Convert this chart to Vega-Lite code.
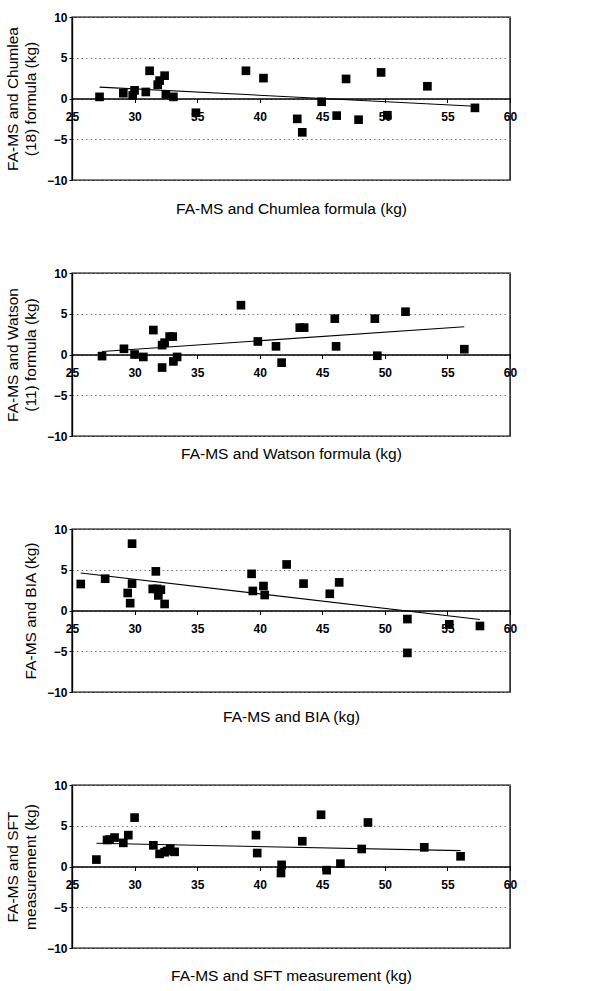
{
  "$schema": "https://vega.github.io/schema/vega-lite/v6.json",
  "padding": {"left": 4, "top": 10, "right": 10, "bottom": 5},
  "background": "white",
  "config": {
    "font": "Liberation Sans",
    "view": {"stroke": "#000", "strokeWidth": 1.4},
    "axis": {
      "domainColor": "#000",
      "tickColor": "#000",
      "labelColor": "#000",
      "titleColor": "#000",
      "labelFont": "Liberation Sans",
      "titleFont": "Liberation Sans",
      "labelFontSize": 12,
      "labelFontWeight": "bold",
      "titleFontSize": 15.5,
      "titleFontWeight": "normal"
    },
    "axisX": {
      "values": [25, 30, 35, 40, 45, 50, 55, 60],
      "grid": false,
      "tickSize": 4,
      "labelPadding": 9,
      "domainWidth": 1.3,
      "offset": -81.5,
      "titleBaseline": "middle",
      "labelFlush": false
    },
    "axisY": {
      "values": [-10, -5, 0, 5, 10],
      "grid": true,
      "gridColor": "#777",
      "gridDash": [1.5, 3],
      "gridWidth": 1,
      "tickSize": 3,
      "labelPadding": 2,
      "titlePadding": 8,
      "titleLineHeight": 18,
      "domainWidth": 1.3
    }
  },
  "datasets": {
    "pts": [
      {"p": "A", "x": 27.2, "y": 0.2}, {"p": "A", "x": 29.1, "y": 0.65}, {"p": "A", "x": 29.85, "y": 0.37},
      {"p": "A", "x": 30.0, "y": 1.0}, {"p": "A", "x": 30.9, "y": 0.8}, {"p": "A", "x": 31.2, "y": 3.4},
      {"p": "A", "x": 31.85, "y": 1.7}, {"p": "A", "x": 32.0, "y": 2.2}, {"p": "A", "x": 32.4, "y": 2.8},
      {"p": "A", "x": 32.5, "y": 0.5}, {"p": "A", "x": 33.1, "y": 0.2}, {"p": "A", "x": 34.9, "y": -1.75},
      {"p": "A", "x": 38.9, "y": 3.4}, {"p": "A", "x": 40.3, "y": 2.5}, {"p": "A", "x": 43.0, "y": -2.5},
      {"p": "A", "x": 43.4, "y": -4.15}, {"p": "A", "x": 44.95, "y": -0.4}, {"p": "A", "x": 46.15, "y": -2.1},
      {"p": "A", "x": 46.9, "y": 2.4}, {"p": "A", "x": 47.9, "y": -2.6}, {"p": "A", "x": 49.7, "y": 3.2},
      {"p": "A", "x": 50.2, "y": -2.05}, {"p": "A", "x": 53.4, "y": 1.5}, {"p": "A", "x": 57.2, "y": -1.15},

      {"p": "B", "x": 27.4, "y": -0.2}, {"p": "B", "x": 29.15, "y": 0.7}, {"p": "B", "x": 30.0, "y": 0.0},
      {"p": "B", "x": 30.7, "y": -0.3}, {"p": "B", "x": 31.5, "y": 3.0}, {"p": "B", "x": 32.2, "y": -1.6},
      {"p": "B", "x": 32.2, "y": 1.15}, {"p": "B", "x": 32.4, "y": 1.45}, {"p": "B", "x": 32.8, "y": 2.2},
      {"p": "B", "x": 33.05, "y": 2.2}, {"p": "B", "x": 33.1, "y": -0.85}, {"p": "B", "x": 33.4, "y": -0.3},
      {"p": "B", "x": 38.5, "y": 6.05}, {"p": "B", "x": 39.85, "y": 1.6}, {"p": "B", "x": 41.3, "y": 1.0},
      {"p": "B", "x": 41.75, "y": -1.0}, {"p": "B", "x": 43.2, "y": 3.3}, {"p": "B", "x": 43.55, "y": 3.3},
      {"p": "B", "x": 46.0, "y": 4.4}, {"p": "B", "x": 46.1, "y": 1.0}, {"p": "B", "x": 49.2, "y": 4.4},
      {"p": "B", "x": 49.4, "y": -0.15}, {"p": "B", "x": 51.65, "y": 5.25}, {"p": "B", "x": 56.35, "y": 0.65},

      {"p": "C", "x": 25.7, "y": 3.25}, {"p": "C", "x": 27.65, "y": 3.9}, {"p": "C", "x": 29.45, "y": 2.15},
      {"p": "C", "x": 29.65, "y": 0.9}, {"p": "C", "x": 29.8, "y": 8.2}, {"p": "C", "x": 29.8, "y": 3.3},
      {"p": "C", "x": 31.45, "y": 2.65}, {"p": "C", "x": 31.7, "y": 4.8}, {"p": "C", "x": 31.8, "y": 2.65},
      {"p": "C", "x": 31.9, "y": 1.85}, {"p": "C", "x": 32.1, "y": 2.55}, {"p": "C", "x": 32.4, "y": 0.8},
      {"p": "C", "x": 39.35, "y": 4.5}, {"p": "C", "x": 39.45, "y": 2.4}, {"p": "C", "x": 40.3, "y": 3.0},
      {"p": "C", "x": 40.4, "y": 1.9}, {"p": "C", "x": 42.15, "y": 5.65}, {"p": "C", "x": 43.5, "y": 3.3},
      {"p": "C", "x": 45.6, "y": 2.05}, {"p": "C", "x": 46.35, "y": 3.45}, {"p": "C", "x": 51.8, "y": -1.05},
      {"p": "C", "x": 51.8, "y": -5.2}, {"p": "C", "x": 55.15, "y": -1.7}, {"p": "C", "x": 57.6, "y": -1.9},

      {"p": "D", "x": 26.95, "y": 0.85}, {"p": "D", "x": 27.8, "y": 3.25}, {"p": "D", "x": 28.0, "y": 3.3},
      {"p": "D", "x": 28.4, "y": 3.55}, {"p": "D", "x": 29.1, "y": 2.9}, {"p": "D", "x": 29.5, "y": 3.85},
      {"p": "D", "x": 30.0, "y": 6.0}, {"p": "D", "x": 31.5, "y": 2.6}, {"p": "D", "x": 32.0, "y": 1.55},
      {"p": "D", "x": 32.4, "y": 1.75}, {"p": "D", "x": 32.6, "y": 1.9}, {"p": "D", "x": 32.85, "y": 2.2},
      {"p": "D", "x": 33.2, "y": 1.8}, {"p": "D", "x": 39.7, "y": 3.85}, {"p": "D", "x": 39.8, "y": 1.65},
      {"p": "D", "x": 41.7, "y": -0.8}, {"p": "D", "x": 41.75, "y": 0.2}, {"p": "D", "x": 43.4, "y": 3.1},
      {"p": "D", "x": 44.9, "y": 6.35}, {"p": "D", "x": 45.35, "y": -0.45}, {"p": "D", "x": 46.45, "y": 0.35},
      {"p": "D", "x": 48.15, "y": 2.15}, {"p": "D", "x": 48.65, "y": 5.4}, {"p": "D", "x": 53.15, "y": 2.35},
      {"p": "D", "x": 56.05, "y": 1.25}
    ],
    "fit": [
      {"p": "A", "x": 27.2, "y": 1.4}, {"p": "A", "x": 57.2, "y": -0.95},
      {"p": "B", "x": 27.4, "y": 0.37}, {"p": "B", "x": 56.35, "y": 3.4},
      {"p": "C", "x": 25.7, "y": 4.6}, {"p": "C", "x": 57.6, "y": -1.1},
      {"p": "D", "x": 26.95, "y": 2.85}, {"p": "D", "x": 56.05, "y": 1.95}
    ]
  },
  "vconcat": [
    {
      "width": 438, "height": 163,
      "layer": [
        {
          "data": {"name": "fit"},
          "transform": [{"filter": "datum.p === 'A'"}],
          "mark": {"type": "line", "color": "#000", "strokeWidth": 1.1},
          "encoding": {
            "x": {"field": "x", "type": "quantitative", "scale": {"domain": [25, 60], "nice": false, "zero": false},
                  "axis": {"title": "FA-MS and Chumlea formula (kg)", "titleY": 110}},
            "y": {"field": "y", "type": "quantitative", "scale": {"domain": [-10, 10], "nice": false},
                  "axis": {"title": ["FA-MS and Chumlea", "(18) formula (kg)"]}}
          }
        },
        {
          "data": {"name": "pts"},
          "transform": [{"filter": "datum.p === 'A'"}],
          "mark": {"type": "square", "filled": true, "color": "#000", "size": 75, "opacity": 1},
          "encoding": {
            "x": {"field": "x", "type": "quantitative"},
            "y": {"field": "y", "type": "quantitative"}
          }
        }
      ]
    },
    {
      "width": 438, "height": 163,
      "layer": [
        {
          "data": {"name": "fit"},
          "transform": [{"filter": "datum.p === 'B'"}],
          "mark": {"type": "line", "color": "#000", "strokeWidth": 1.1},
          "encoding": {
            "x": {"field": "x", "type": "quantitative", "scale": {"domain": [25, 60], "nice": false, "zero": false},
                  "axis": {"title": "FA-MS and Watson formula (kg)", "titleY": 99}},
            "y": {"field": "y", "type": "quantitative", "scale": {"domain": [-10, 10], "nice": false},
                  "axis": {"title": ["FA-MS and Watson", "(11) formula (kg)"]}}
          }
        },
        {
          "data": {"name": "pts"},
          "transform": [{"filter": "datum.p === 'B'"}],
          "mark": {"type": "square", "filled": true, "color": "#000", "size": 75, "opacity": 1},
          "encoding": {
            "x": {"field": "x", "type": "quantitative"},
            "y": {"field": "y", "type": "quantitative"}
          }
        }
      ]
    },
    {
      "width": 438, "height": 163,
      "layer": [
        {
          "data": {"name": "fit"},
          "transform": [{"filter": "datum.p === 'C'"}],
          "mark": {"type": "line", "color": "#000", "strokeWidth": 1.1},
          "encoding": {
            "x": {"field": "x", "type": "quantitative", "scale": {"domain": [25, 60], "nice": false, "zero": false},
                  "axis": {"title": "FA-MS and BIA (kg)", "titleY": 106}},
            "y": {"field": "y", "type": "quantitative", "scale": {"domain": [-10, 10], "nice": false},
                  "axis": {"title": "FA-MS and BIA (kg)"}}
          }
        },
        {
          "data": {"name": "pts"},
          "transform": [{"filter": "datum.p === 'C'"}],
          "mark": {"type": "square", "filled": true, "color": "#000", "size": 75, "opacity": 1},
          "encoding": {
            "x": {"field": "x", "type": "quantitative"},
            "y": {"field": "y", "type": "quantitative"}
          }
        }
      ]
    },
    {
      "width": 438, "height": 163,
      "layer": [
        {
          "data": {"name": "fit"},
          "transform": [{"filter": "datum.p === 'D'"}],
          "mark": {"type": "line", "color": "#000", "strokeWidth": 1.1},
          "encoding": {
            "x": {"field": "x", "type": "quantitative", "scale": {"domain": [25, 60], "nice": false, "zero": false},
                  "axis": {"title": "FA-MS and SFT measurement (kg)", "titleY": 109}},
            "y": {"field": "y", "type": "quantitative", "scale": {"domain": [-10, 10], "nice": false},
                  "axis": {"title": ["FA-MS and SFT", "measurement (kg)"]}}
          }
        },
        {
          "data": {"name": "pts"},
          "transform": [{"filter": "datum.p === 'D'"}],
          "mark": {"type": "square", "filled": true, "color": "#000", "size": 75, "opacity": 1},
          "encoding": {
            "x": {"field": "x", "type": "quantitative"},
            "y": {"field": "y", "type": "quantitative"}
          }
        }
      ]
    }
  ],
  "spacing": 93,
  "bounds": "flush"
}
